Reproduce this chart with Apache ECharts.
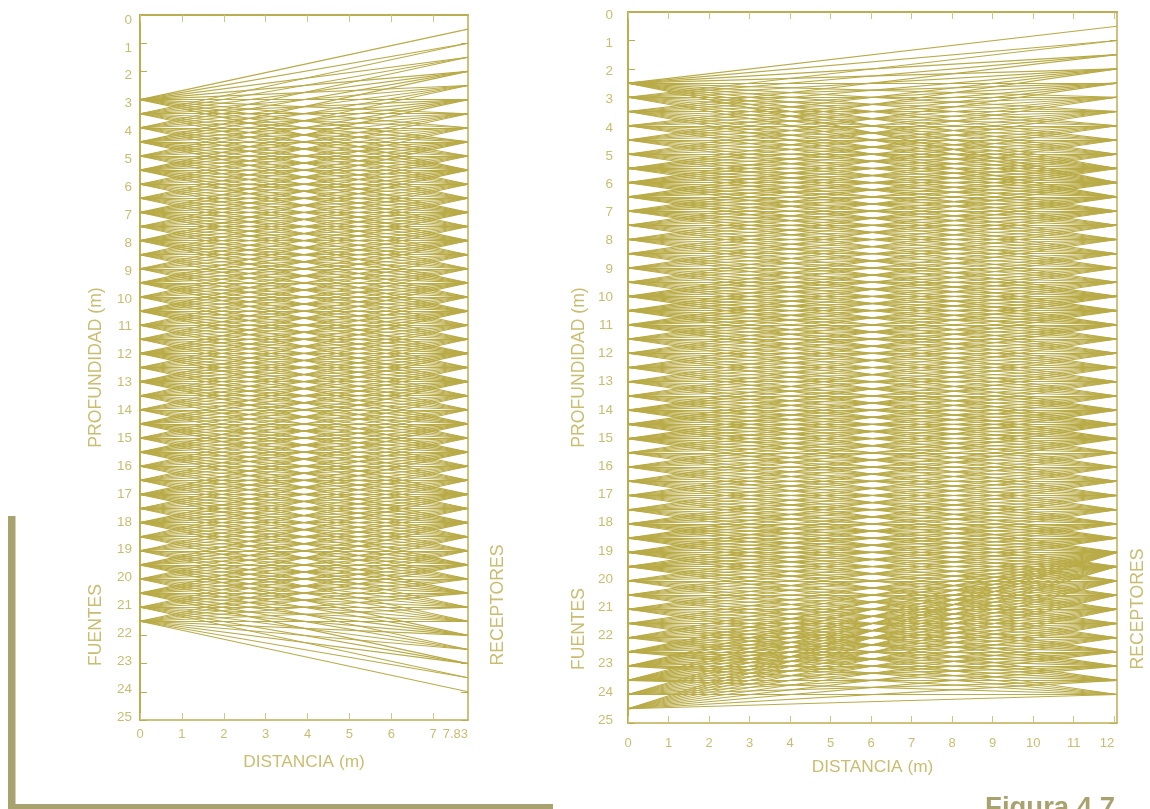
<!DOCTYPE html>
<html><head><meta charset="utf-8"><style>html,body{margin:0;padding:0;background:#fff}#c{width:1150px;height:809px}</style>
<script src="https://cdn.jsdelivr.net/npm/echarts@6/dist/echarts.min.js"></script></head><body><div id="c"></div>
<script>
// Left panel: depths in metres
const leftSources=[3,3.5,4,4.5,5,5.5,6,6.5,7,7.5,8,8.5,9,9.5,10,10.5,11,11.5,12,12.5,13,13.5,14,14.5,15,15.5,16,16.5,17,17.5,18,18.5,19,19.5,20,20.5,21,21.5];
const leftFirstReceptor=[0.5,1,1.5,2,2.5,3,3.5,4,4.5,5,5.5,6,6.5,7,7.5,8,8.5,9,9.5,10,10.5,11,11.5,12,12.5,13,13.5,14,14.5,15,15.5,16,16.5,17,17.5,18,18.5,19];
const leftLastReceptor=[5.5,6,6.5,7,7.5,8,8.5,9,9.5,10,10.5,11,11.5,12,12.5,13,13.5,14,14.5,15,15.5,16,16.5,17,17.5,18,18.5,19,19.5,20,20.5,21,21.5,22,22.5,23,23.5,24];
const leftWellDistance=7.83;
const leftXTicks=[0,1,2,3,4,5,6,7];
const leftXLabels=[0,1,2,3,4,5,6,7,7.83];
// Right panel: depths in metres
const rightSources=[2.5,3,3.5,4,4.5,5,5.5,6,6.5,7,7.5,8,8.5,9,9.5,10,10.5,11,11.5,12,12.5,13,13.5,14,14.5,15,15.5,16,16.5,17,17.5,18,18.5,19,19.5,20,20.5,21,21.5,22,22.5,23,23.5,24,24.5];
const rightFirstReceptor=[0.5,1,1.5,2,2,2.5,3,3.5,4,4.5,5,5.5,6,6.5,7,7.5,8,8.5,9,9.5,10,10.5,11,11.5,12,12.5,13,13.5,14,14.5,15,15.5,16,16.5,17,17.5,18,18.5,19,19,19,19,19,19,19];
const rightLastReceptor=[6,6,6.5,6.5,7,7.5,8,8.5,9,9.5,10,10.5,11,11.5,12,12.5,13,13.5,14,14.5,15,15.5,16,16.5,17,17.5,18,18.5,19,19.5,20,20.5,21,21.5,22,22.5,23,23.5,24,24,24,24,24,24,24];
const rightWellDistance=12.07;
const rightXTicks=[0,1,2,3,4,5,6,7,8,9,10,11,12];
const receptors=[0.5,1,1.5,2,2.5,3,3.5,4,4.5,5,5.5,6,6.5,7,7.5,8,8.5,9,9.5,10,10.5,11,11.5,12,12.5,13,13.5,14,14.5,15,15.5,16,16.5,17,17.5,18,18.5,19,19.5,20,20.5,21,21.5,22,22.5,23,23.5,24];

const RAY='#b9ab47',AXIS='#bcae50',TXT='#c9bd70',TICK='#cfc587',DECOR='#a8a26e';
const FONT='"Liberation Sans",Arial,sans-serif';
function rays(src,first,last,dist){
  const out=[];
  src.forEach((s,i)=>receptors.forEach(r=>{ if(r>=first[i]&&r<=last[i]) out.push({coords:[[0,s],[dist,r]]}); }));
  return out;
}
const line=(w)=>({show:true,onZero:false,lineStyle:{color:AXIS,width:w}});
const tick=(vals)=>({show:true,inside:true,length:7,customValues:vals,lineStyle:{color:TICK,width:1}});
const yTick={show:true,inside:true,length:7,lineStyle:{color:AXIS,width:1}};
const hideX=(g)=>({type:'value',gridIndex:g,min:0,max:1,show:false});
function mainX(g,max,ticks,labels,margin,size,gap){return {type:'value',gridIndex:g,min:0,max,position:'bottom',axisLine:line(1.5),axisTick:tick(ticks),splitLine:{show:false},
  axisLabel:{customValues:labels,margin,color:TXT,fontSize:size,fontFamily:FONT,alignMaxLabel:'right',hideOverlap:false,formatter:v=>String(v)},
  name:'DISTANCIA (m)',nameLocation:'middle',nameGap:gap,nameTextStyle:{color:TXT,fontSize:17.3,fontFamily:FONT}};}
function topX(g,max,ticks){return {type:'value',gridIndex:g,min:0,max,position:'top',axisLine:line(2),axisTick:tick(ticks),axisLabel:{show:false},splitLine:{show:false}};}
function mainY(g,gap){return {type:'value',gridIndex:g,inverse:true,min:0,max:25,interval:1,position:'left',axisLine:line(2),axisTick:yTick,axisLabel:{show:false},splitLine:{show:false},
  name:'PROFUNDIDAD (m)',nameLocation:'middle',nameGap:gap,nameRotate:90,nameTextStyle:{color:TXT,fontSize:17.6,fontFamily:FONT}};}
function rightY(g){return {type:'value',gridIndex:g,inverse:true,min:0,max:25,interval:1,position:'right',axisLine:line(1.5),axisTick:yTick,axisLabel:{show:false},splitLine:{show:false}};}
function labelY(g,margin,size){return {type:'value',gridIndex:g,inverse:true,min:0,max:25,interval:1,position:'left',axisLine:{show:false},axisTick:{show:false},splitLine:{show:false},
  axisLabel:{margin,color:TXT,fontSize:size,fontFamily:FONT,showMinLabel:true,showMaxLabel:true}};}
function side(text,x,y){return {type:'text',x,y,rotation:Math.PI/2,silent:true,style:{text,fill:TXT,font:'17.6px '+FONT,align:'center',verticalAlign:'middle'}};}
const raySeries=(xi,yi,data)=>({type:'lines',coordinateSystem:'cartesian2d',xAxisIndex:xi,yAxisIndex:yi,polyline:false,silent:true,animation:false,
  lineStyle:{color:RAY,width:1.1,opacity:1,curveness:0},data});

const chart=echarts.init(document.getElementById('c'),null,{renderer:'canvas'});
chart.setOption({
  animation:false,backgroundColor:'#fff',
  grid:[
    {left:140,top:15,width:328,height:705},
    {left:140,top:20,width:328,height:697},
    {left:628,top:12,width:489,height:711},
    {left:628,top:15,width:489,height:705}
  ],
  xAxis:[
    mainX(0,leftWellDistance,leftXTicks,leftXLabels,8,13,34),
    topX(0,leftWellDistance,leftXTicks),
    hideX(1),
    mainX(2,rightWellDistance,rightXTicks,rightXTicks,14,13,36),
    topX(2,rightWellDistance,rightXTicks),
    hideX(3)
  ],
  yAxis:[
    mainY(0,35),rightY(0),labelY(1,8,13.5),
    mainY(2,40),rightY(2),labelY(3,15,13.5)
  ],
  series:[
    raySeries(0,0,rays(leftSources,leftFirstReceptor,leftLastReceptor,leftWellDistance)),
    raySeries(3,3,rays(rightSources,rightFirstReceptor,rightLastReceptor,rightWellDistance))
  ],
  graphic:[
    side('FUENTES',96,625),side('RECEPTORES',498,605),
    side('FUENTES',579,629),side('RECEPTORES',1138,609),
    {type:'rect',silent:true,shape:{x:8,y:516,width:7.5,height:293},style:{fill:DECOR}},
    {type:'rect',silent:true,shape:{x:8,y:804,width:545,height:5},style:{fill:DECOR}},
    {type:'text',silent:true,x:1115,y:808,style:{text:'Figura 4.7',fill:DECOR,font:'bold 27.5px '+FONT,align:'right',verticalAlign:'middle'}}
  ]
});
</script></body></html>
